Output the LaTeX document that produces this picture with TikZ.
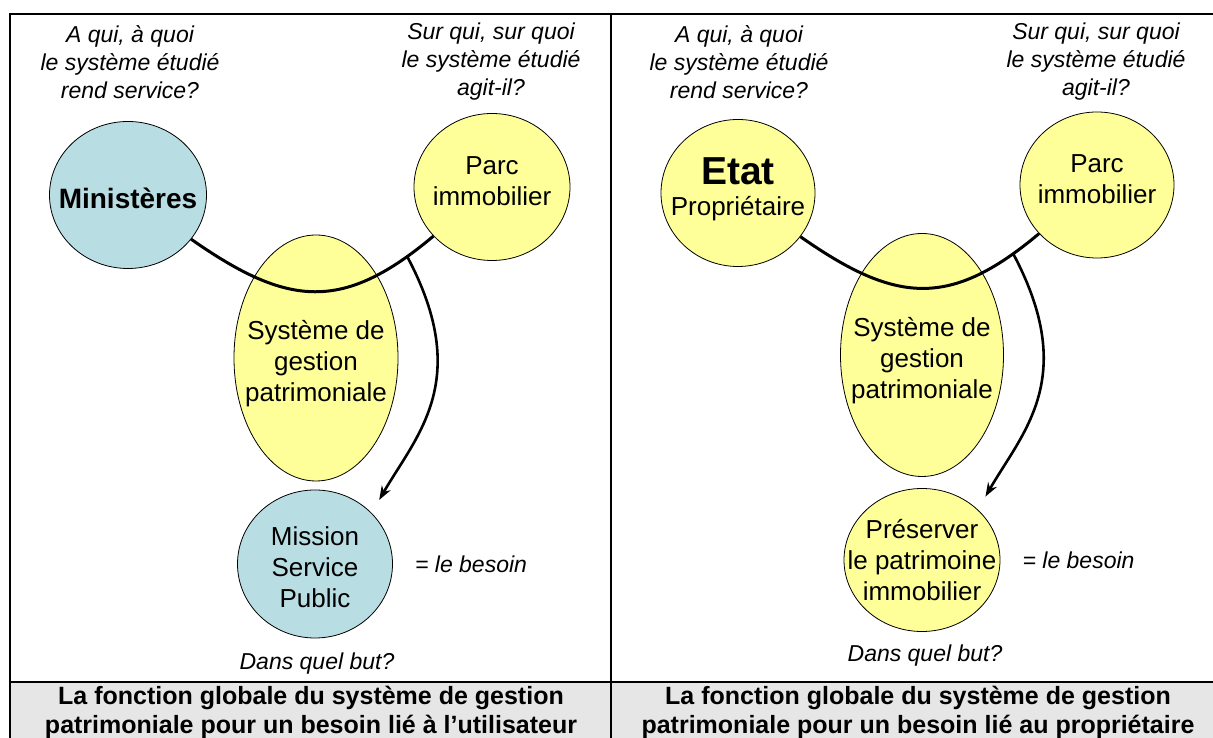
\documentclass[tikz,border=0pt]{standalone}
\usepackage{fontspec}
\setmainfont{Liberation Sans}
\usepackage{tikz}
\usetikzlibrary{arrows.meta, positioning, shapes.geometric}
\definecolor{aqua200}{HTML}{B8DEE3}
\definecolor{yellow200}{HTML}{FFFF99}
\definecolor{gray150}{HTML}{E6E6E6}

\begin{document}
\begin{tikzpicture}[
    x=1pt, y=1pt,
    bubble/.style={ellipse, draw=black, line width=0.8pt, inner sep=0pt, fill=yellow200},
    user/.style={bubble, fill=aqua200},
    inside/.style={align=center, font=\fontsize{26}{31}\selectfont, inner sep=0pt},
    question/.style={align=center, font=\fontsize{23}{28}\selectfont\itshape, inner sep=0pt},
    caption/.style={align=center, font=\fontsize{25}{29}\selectfont\bfseries, inner sep=0pt},
    link/.style={line width=3pt},
    flow/.style={-{Stealth[length=14pt, width=10pt]}, line width=2.6pt, shorten >=15pt},
    frame/.style={line width=2pt}
  ]
  \useasboundingbox (0,0) rectangle (1213,738);

  % Table frame
  \fill[gray150] (10,0) rectangle (1213,56);
  \draw[frame] (1213,724) -- (10,724) -- (10,0);
  \draw[frame] (611,724) -- (611,0);
  \draw[frame, line width=2.6pt] (10,56) -- (1213,56);

  % Left panel: need of the user
  \node[question] (q1L) at (130,676) {A qui, à quoi\\le système étudié\\rend service?};
  \node[question] (q2L) at (491,676) {Sur qui, sur quoi\\le système étudié\\agit-il?};

  \node[user, minimum width=157pt, minimum height=147pt] (minL) at (128,543) {};
  \node[inside, font=\fontsize{28}{32}\selectfont\bfseries] (minLt) at ([yshift=-3pt]minL) {Ministères};
  \node[bubble, minimum width=156pt, minimum height=147pt] (parcL) at (492,551) {};
  \node[inside] (parcLt) at ([yshift=6pt]parcL) {Parc\\immobilier};
  \node[bubble, minimum width=164pt, minimum height=246pt] (sysL) at (316,380) {};
  \node[inside] (sysLt) at ([yshift=-6pt]sysL) {Système de\\gestion\\patrimoniale};
  \node[user, minimum width=155pt, minimum height=148pt] (mspL) at (315,174) {};
  \node[inside] (mspLt) at ([yshift=-3pt]mspL) {Mission\\Service\\Public};

  \node[question, right=22pt of mspL] (besoinL) {= le besoin};
  \node[question] (butL) at (317,74) {Dans quel but?};

  \draw[link] (minL) to[out=-35, in=-140, looseness=1.25] coordinate[pos=0.9] (forkL) (parcL);
  \draw[flow] (forkL) to[out=-62, in=60, out distance=140pt, in distance=90pt] (mspL.42);

  \node[caption] (capL) at (311,26) {La fonction globale du système de gestion\\patrimoniale pour un besoin lié à l’utilisateur};

  % Right panel: need of the owner
  \node[question] (q1R) at (739,676) {A qui, à quoi\\le système étudié\\rend service?};
  \node[question] (q2R) at (1096,676) {Sur qui, sur quoi\\le système étudié\\agit-il?};

  \node[bubble, minimum width=154pt, minimum height=147pt] (etatR) at (738,545) {};
  \node[inside] (etatRt) at ([yshift=4pt]etatR) {{\fontsize{39}{44}\selectfont\bfseries Etat}\\Propriétaire};
  \node[bubble, minimum width=154pt, minimum height=146pt] (parcR) at (1097,553) {};
  \node[inside] (parcRt) at ([yshift=6pt]parcR) {Parc\\immobilier};
  \node[bubble, minimum width=163pt, minimum height=243pt] (sysR) at (922,383) {};
  \node[inside] (sysRt) at ([yshift=-6pt]sysR) {Système de\\gestion\\patrimoniale};
  \node[bubble, minimum width=156pt, minimum height=143pt] (presR) at (922,178) {};
  \node[inside] (presRt) at (presR) {Préserver\\le patrimoine\\immobilier};

  \node[question, right=22pt of presR] (besoinR) {= le besoin};
  \node[question] (butR) at (925,82) {Dans quel but?};

  \draw[link] (etatR) to[out=-35, in=-140, looseness=1.25] coordinate[pos=0.9] (forkR) (parcR);
  \draw[flow] (forkR) to[out=-62, in=60, out distance=140pt, in distance=90pt] (presR.42);

  \node[caption] (capR) at (918,26) {La fonction globale du système de gestion\\patrimoniale pour un besoin lié au propriétaire};
\end{tikzpicture}
\end{document}
